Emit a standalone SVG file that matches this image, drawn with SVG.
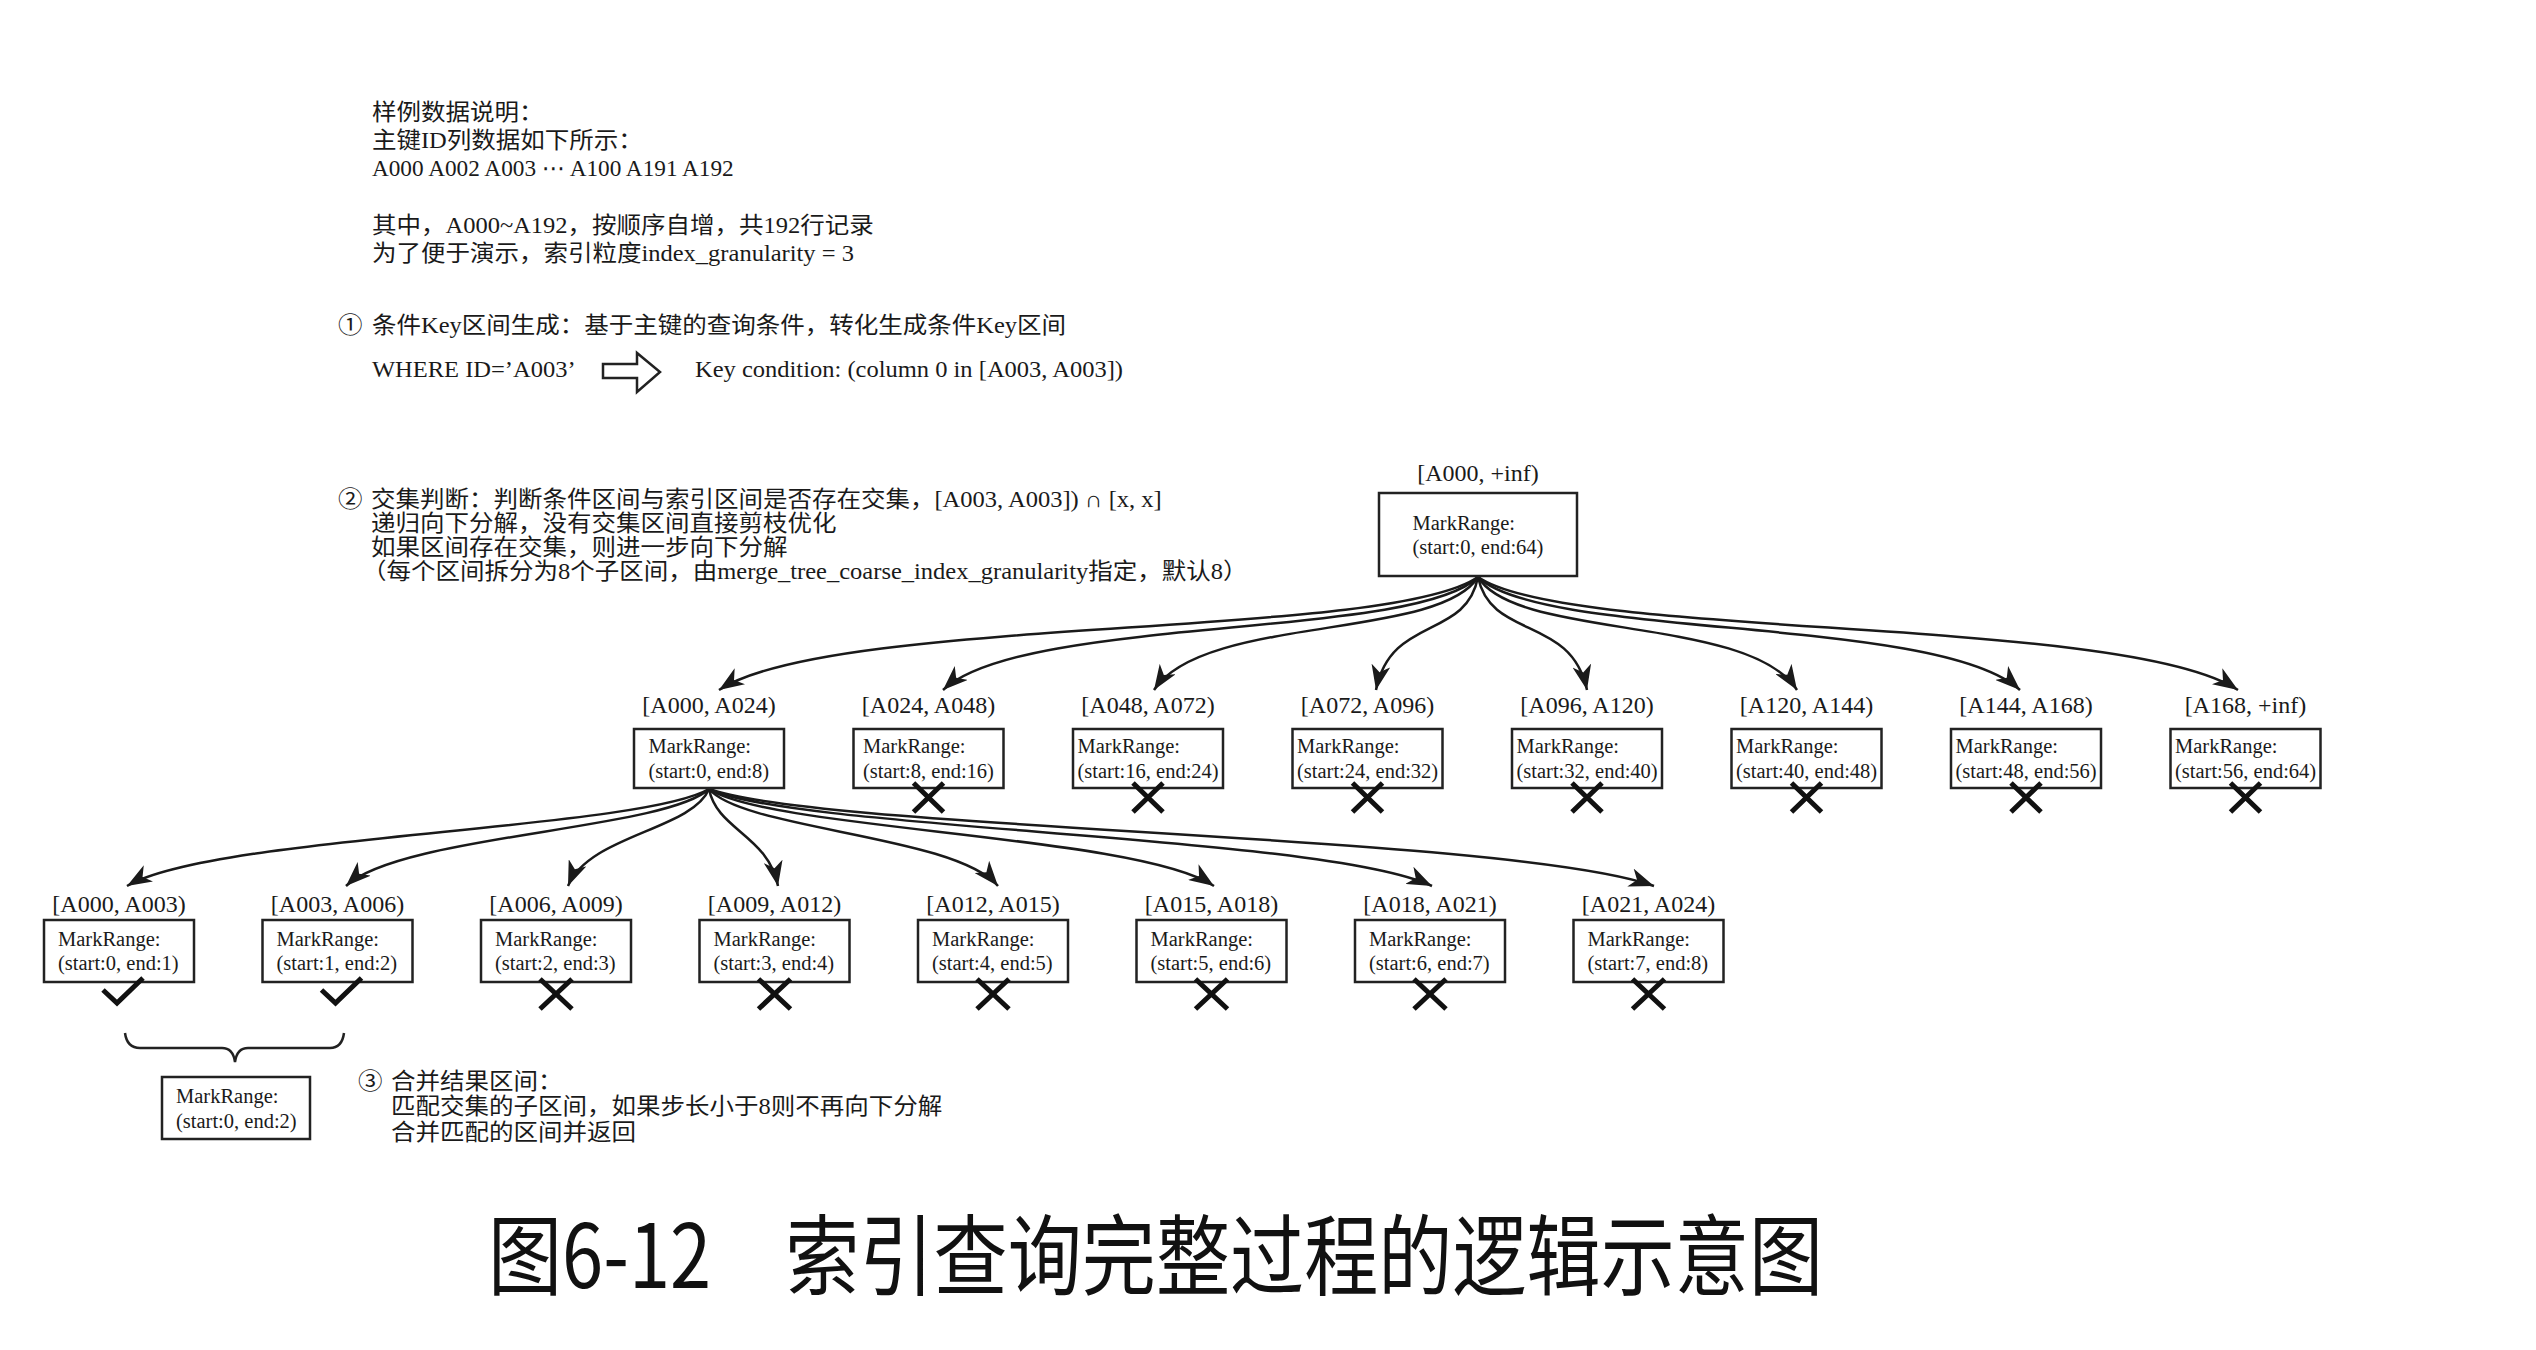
<svg xmlns="http://www.w3.org/2000/svg" width="2536" height="1350" viewBox="0 0 2536 1350">
<defs>
<marker id="ah" markerUnits="userSpaceOnUse" markerWidth="27" markerHeight="19" refX="25" refY="9.5" orient="auto">
<path d="M0,0 L25,9.5 L0,19 L7,9.5 z" fill="#1a1a1a"/>
</marker>
<style>
.t{font-family:"Liberation Serif","Noto Sans CJK SC",serif;font-size:22.7px;fill:#1a1a1a}
.lbl{font-family:"Liberation Serif",serif;font-size:24px;fill:#1a1a1a;text-anchor:middle}
.bt{font-family:"Liberation Serif",serif;font-size:20.5px;fill:#1a1a1a}
.box{fill:#fff;stroke:#222;stroke-width:2.5}
.con{fill:none;stroke:#1a1a1a;stroke-width:2.5;marker-end:url(#ah)}
.mk{fill:none;stroke:#111;stroke-width:5}
.title{font-family:"Noto Sans CJK SC",sans-serif;font-size:88px;fill:#111}
</style>
</defs>
<rect width="2536" height="1350" fill="#fff"/>

<g id="notes">
<g transform="scale(1.08,1)">
<text class="t" x="344.4" y="120">样例数据说明：</text>
<text class="t" x="344.4" y="148">主键ID列数据如下所示：</text>
<text class="t" x="344.4" y="176" style="font-family:'Liberation Serif','DejaVu Sans',serif" textLength="335" lengthAdjust="spacingAndGlyphs">A000 A002 A003 ⋯ A100 A191 A192</text>
<text class="t" x="344.4" y="233">其中，A000~A192，按顺序自增，共192行记录</text>
<text class="t" x="344.4" y="261">为了便于演示，索引粒度index_granularity = 3</text>
<text class="t" x="313" y="333">①</text>
<text class="t" x="344.4" y="333">条件Key区间生成：基于主键的查询条件，转化生成条件Key区间</text>
<text class="t" x="344.4" y="377">WHERE ID=’A003’</text>
<text class="t" x="643.5" y="377">Key condition: (column 0 in [A003, A003])</text>
<text class="t" x="313" y="507">②</text>
<text class="t" x="343.5" y="507">交集判断：判断条件区间与索引区间是否存在交集，[A003, A003]) ∩ [x, x]</text>
<text class="t" x="343.5" y="531">递归向下分解，没有交集区间直接剪枝优化</text>
<text class="t" x="343.5" y="555">如果区间存在交集，则进一步向下分解</text>
<text class="t" x="335.2" y="579">（每个区间拆分为8个子区间，由merge_tree_coarse_index_granularity指定，默认8）</text>
<text class="t" x="331.5" y="1089">③</text>
<text class="t" x="362" y="1089">合并结果区间：</text>
<text class="t" x="362" y="1114">匹配交集的子区间，如果步长小于8则不再向下分解</text>
<text class="t" x="362" y="1140">合并匹配的区间并返回</text>
</g>
<polygon points="603,364 637,364 637,353 660,372 637,392 637,378 603,378" fill="#fff" stroke="#222" stroke-width="2.5" stroke-linejoin="miter"/>
</g>

<g id="connectors">
<path class="con" d="M1478,577 C1387,640 833,615 719,690"/>
<path class="con" d="M1478,577 C1414,640 1023,615 943,690"/>
<path class="con" d="M1478,577 C1439,640 1203,615 1154,690"/>
<path class="con" d="M1478,577 C1466,640 1391,615 1376,690"/>
<path class="con" d="M1478,577 C1491,640 1571,615 1587,690"/>
<path class="con" d="M1478,577 C1516,640 1749,615 1797,690"/>
<path class="con" d="M1478,577 C1543,640 1939,615 2020,690"/>
<path class="con" d="M1478,577 C1569,640 2124,615 2238,690"/>
<path class="con" d="M709,789 C639,830 214,835 127,886"/>
<path class="con" d="M709,789 C665,830 400,835 346,886"/>
<path class="con" d="M709,789 C692,830 589,835 568,886"/>
<path class="con" d="M709,789 C717,830 768,835 778,886"/>
<path class="con" d="M709,789 C744,830 955,835 998,886"/>
<path class="con" d="M709,789 C770,830 1138,835 1214,886"/>
<path class="con" d="M709,789 C796,830 1324,835 1432,886"/>
<path class="con" d="M709,789 C822,830 1512,835 1654,886"/>
<path d="M125,1033 Q127,1048 140,1048 L222,1048 Q233,1048 235,1062 Q237,1048 248,1048 L330,1048 Q342,1048 344,1033" fill="none" stroke="#222" stroke-width="2.5"/>
</g>

<g id="node-root">
<text class="lbl" x="1478" y="481">[A000, +inf)</text>
<rect class="box" x="1379" y="493" width="198" height="83"/>
<text class="bt" x="1412.5" y="530">MarkRange:</text>
<text class="bt" x="1412.5" y="554">(start:0, end:64)</text>
</g>

<g id="n1-0">
<text class="lbl" x="709" y="713">[A000, A024)</text>
<rect class="box" x="634" y="729" width="150" height="59"/>
<text class="bt" x="648.5" y="753">MarkRange:</text>
<text class="bt" x="648.5" y="778">(start:0, end:8)</text>
</g>
<g id="n1-1">
<text class="lbl" x="928.5" y="713">[A024, A048)</text>
<rect class="box" x="853.5" y="729" width="150" height="59"/>
<text class="bt" x="863" y="753">MarkRange:</text>
<text class="bt" x="863" y="778">(start:8, end:16)</text>
<path class="mk" d="M913.5,783 L943.5,812 M943.5,783 L913.5,812"/>
</g>
<g id="n1-2">
<text class="lbl" x="1148" y="713">[A048, A072)</text>
<rect class="box" x="1073" y="729" width="150" height="59"/>
<text class="bt" x="1077.5" y="753">MarkRange:</text>
<text class="bt" x="1077.5" y="778">(start:16, end:24)</text>
<path class="mk" d="M1133,783 L1163,812 M1163,783 L1133,812"/>
</g>
<g id="n1-3">
<text class="lbl" x="1367.5" y="713">[A072, A096)</text>
<rect class="box" x="1292.5" y="729" width="150" height="59"/>
<text class="bt" x="1297" y="753">MarkRange:</text>
<text class="bt" x="1297" y="778">(start:24, end:32)</text>
<path class="mk" d="M1352.5,783 L1382.5,812 M1382.5,783 L1352.5,812"/>
</g>
<g id="n1-4">
<text class="lbl" x="1587" y="713">[A096, A120)</text>
<rect class="box" x="1512" y="729" width="150" height="59"/>
<text class="bt" x="1516.5" y="753">MarkRange:</text>
<text class="bt" x="1516.5" y="778">(start:32, end:40)</text>
<path class="mk" d="M1572,783 L1602,812 M1602,783 L1572,812"/>
</g>
<g id="n1-5">
<text class="lbl" x="1806.5" y="713">[A120, A144)</text>
<rect class="box" x="1731.5" y="729" width="150" height="59"/>
<text class="bt" x="1736" y="753">MarkRange:</text>
<text class="bt" x="1736" y="778">(start:40, end:48)</text>
<path class="mk" d="M1791.5,783 L1821.5,812 M1821.5,783 L1791.5,812"/>
</g>
<g id="n1-6">
<text class="lbl" x="2026" y="713">[A144, A168)</text>
<rect class="box" x="1951" y="729" width="150" height="59"/>
<text class="bt" x="1955.5" y="753">MarkRange:</text>
<text class="bt" x="1955.5" y="778">(start:48, end:56)</text>
<path class="mk" d="M2011,783 L2041,812 M2041,783 L2011,812"/>
</g>
<g id="n1-7">
<text class="lbl" x="2245.5" y="713">[A168, +inf)</text>
<rect class="box" x="2170.5" y="729" width="150" height="59"/>
<text class="bt" x="2175" y="753">MarkRange:</text>
<text class="bt" x="2175" y="778">(start:56, end:64)</text>
<path class="mk" d="M2230.5,783 L2260.5,812 M2260.5,783 L2230.5,812"/>
</g>

<g id="n2-0">
<text class="lbl" x="119" y="912">[A000, A003)</text>
<rect class="box" x="44" y="920" width="150" height="62"/>
<text class="bt" x="58" y="946">MarkRange:</text>
<text class="bt" x="58" y="970">(start:0, end:1)</text>
<polyline class="mk" points="103,990 117,1003 143,978"/>
</g>
<g id="n2-1">
<text class="lbl" x="337.5" y="912">[A003, A006)</text>
<rect class="box" x="262.5" y="920" width="150" height="62"/>
<text class="bt" x="276.5" y="946">MarkRange:</text>
<text class="bt" x="276.5" y="970">(start:1, end:2)</text>
<polyline class="mk" points="321.5,990 335.5,1003 361.5,978"/>
</g>
<g id="n2-2">
<text class="lbl" x="556" y="912">[A006, A009)</text>
<rect class="box" x="481" y="920" width="150" height="62"/>
<text class="bt" x="495" y="946">MarkRange:</text>
<text class="bt" x="495" y="970">(start:2, end:3)</text>
<path class="mk" d="M540,979 L572,1009 M572,979 L540,1009"/>
</g>
<g id="n2-3">
<text class="lbl" x="774.5" y="912">[A009, A012)</text>
<rect class="box" x="699.5" y="920" width="150" height="62"/>
<text class="bt" x="713.5" y="946">MarkRange:</text>
<text class="bt" x="713.5" y="970">(start:3, end:4)</text>
<path class="mk" d="M758.5,979 L790.5,1009 M790.5,979 L758.5,1009"/>
</g>
<g id="n2-4">
<text class="lbl" x="993" y="912">[A012, A015)</text>
<rect class="box" x="918" y="920" width="150" height="62"/>
<text class="bt" x="932" y="946">MarkRange:</text>
<text class="bt" x="932" y="970">(start:4, end:5)</text>
<path class="mk" d="M977,979 L1009,1009 M1009,979 L977,1009"/>
</g>
<g id="n2-5">
<text class="lbl" x="1211.5" y="912">[A015, A018)</text>
<rect class="box" x="1136.5" y="920" width="150" height="62"/>
<text class="bt" x="1150.5" y="946">MarkRange:</text>
<text class="bt" x="1150.5" y="970">(start:5, end:6)</text>
<path class="mk" d="M1195.5,979 L1227.5,1009 M1227.5,979 L1195.5,1009"/>
</g>
<g id="n2-6">
<text class="lbl" x="1430" y="912">[A018, A021)</text>
<rect class="box" x="1355" y="920" width="150" height="62"/>
<text class="bt" x="1369" y="946">MarkRange:</text>
<text class="bt" x="1369" y="970">(start:6, end:7)</text>
<path class="mk" d="M1414,979 L1446,1009 M1446,979 L1414,1009"/>
</g>
<g id="n2-7">
<text class="lbl" x="1648.5" y="912">[A021, A024)</text>
<rect class="box" x="1573.5" y="920" width="150" height="62"/>
<text class="bt" x="1587.5" y="946">MarkRange:</text>
<text class="bt" x="1587.5" y="970">(start:7, end:8)</text>
<path class="mk" d="M1632.5,979 L1664.5,1009 M1664.5,979 L1632.5,1009"/>
</g>

<g id="node-merged">
<rect class="box" x="162" y="1077" width="148" height="62"/>
<text class="bt" x="176" y="1103">MarkRange:</text>
<text class="bt" x="176" y="1128">(start:0, end:2)</text>
</g>

<g id="caption">
<text class="title" x="488" y="1288" textLength="1335" lengthAdjust="spacingAndGlyphs">图6-12　索引查询完整过程的逻辑示意图</text>
</g>
</svg>
